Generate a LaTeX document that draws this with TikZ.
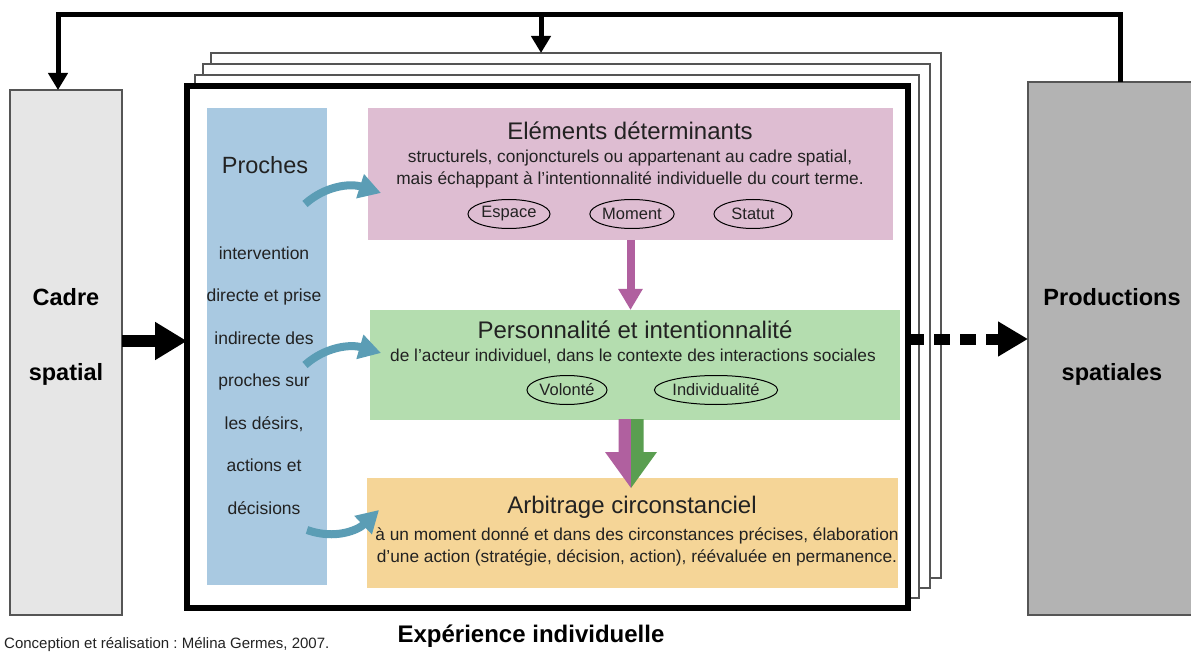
\documentclass[tikz,border=0pt]{standalone}
\usepackage{fontspec}
\setmainfont{Liberation Sans}
\usetikzlibrary{arrows.meta, positioning, shapes.geometric, calc}
\definecolor{cCadre}{HTML}{E6E6E6}
\definecolor{cProd}{HTML}{B3B3B3}
\definecolor{cEdge}{HTML}{555555}
\definecolor{cProche}{HTML}{A9C9E1}
\definecolor{cElem}{HTML}{DEBDD2}
\definecolor{cPerso}{HTML}{B4DDAF}
\definecolor{cArbit}{HTML}{F5D597}
\definecolor{cBlueAr}{HTML}{5B9DB5}
\definecolor{cPinkAr}{HTML}{B0609F}
\definecolor{cGreenAr}{HTML}{5A9E50}
\definecolor{cTxt}{HTML}{222222}
\frenchspacing

\begin{document}
\begin{tikzpicture}[x=1pt, y=-1pt,
    blk/.style={anchor=north west, inner sep=0pt, outer sep=0pt},
    side/.style={blk, draw=cEdge, line width=1.5pt},
    backframe/.style={blk, draw=cEdge, line width=2.5pt, fill=white},
    pane/.style={blk},
    ttl/.style={font=\fontsize{24}{28}\selectfont, text=cTxt, inner sep=0pt},
    txt/.style={font=\fontsize{17.3}{22}\selectfont, text=cTxt, align=center, inner sep=0pt},
    big/.style={font=\fontsize{23.5}{75}\selectfont\bfseries, text=black, align=center, inner sep=0pt},
    oval/.style={ellipse, draw=black, line width=1pt, inner sep=0pt, minimum height=29,
                 font=\fontsize{16.5}{18}\selectfont, text=cTxt},
    fb/.style={line width=5pt, -{Triangle[length=17pt, width=19pt]}},
    inar/.style={line width=12pt, -{Triangle[length=32pt, width=36pt]}},
    dar/.style={line width=11pt, dash pattern=on 16pt off 10pt, -{Triangle[length=30pt, width=33pt]}},
    pkar/.style={cPinkAr, line width=8pt, -{Triangle[length=21pt, width=23pt]}},
    blar/.style={cBlueAr, line width=8pt, -{Triangle[length=22pt, width=24pt]}},
]
\useasboundingbox (0,0) rectangle (1191,652);

% === side boxes ===
\node[side, fill=cCadre, minimum width=112, minimum height=525] (cadre) at (10,90) {};
\node[big] at (66,337) {Cadre\\spatial};
\node[side, fill=cProd, minimum width=184, minimum height=533] (prod) at (1028,82) {};
\node[big] at (1112,337) {Productions\\spatiales};

% === stacked frames ===
\foreach \k in {3,2,1}{
  \pgfmathsetmacro{\fx}{187+8*\k}
  \pgfmathsetmacro{\fy}{86-11*\k}
  \pgfmathsetmacro{\fw}{721+3*\k}
  \pgfmathsetmacro{\fh}{522+\k}
  \node[backframe, minimum width=\fw, minimum height=\fh] (back\k) at (\fx,\fy) {};
}
\node[blk, draw=black, line width=6pt, fill=white, minimum width=721, minimum height=522] (frame) at (187,86) {};

% === feedback loop ===
\coordinate (top) at (541,15);
\draw[fb] (prod.north) |- (top) -| ([xshift=-8pt]cadre.north);
\draw[fb] (top) -- (top |- back3.north);

% === in / out arrows ===
\draw[inar] ([yshift=11.5pt]cadre.east) -- ([yshift=11.5pt]cadre.east -| frame.west);
\draw[dar] ([yshift=8pt]frame.east) -- ([yshift=8pt]frame.east -| prod.west);

% === Proches column ===
\node[pane, fill=cProche, minimum width=120, minimum height=477] (proches) at (207,108) {};
\node[ttl, font=\fontsize{23.5}{26}\selectfont] (prochesT) at (265,165) {Proches};
\node[txt, font=\fontsize{17.5}{42.5}\selectfont] (prochesB) at (264,380.5)
  {intervention\\directe et prise\\indirecte des\\proches sur\\les désirs,\\actions et\\décisions};

% === Eléments déterminants ===
\node[pane, fill=cElem, minimum width=525, minimum height=132] (elem) at (368,108) {};
\node[ttl] (elemT) at (630,131) {Eléments déterminants};
\node[txt] (elemB) at (630,169) {structurels, conjoncturels ou appartenant au cadre spatial,\\mais échappant à l'intentionnalité individuelle du court terme.};
\node[oval, minimum width=82] (espace) at (509,214) {Espace};
\node[oval, minimum width=82] (moment) at (632,214) {Moment};
\node[oval, minimum width=78] (statut) at (753,214) {Statut};

% === Personnalité et intentionnalité ===
\node[pane, fill=cPerso, minimum width=530, minimum height=110] (perso) at (370,310) {};
\node[ttl] (persoT) at (635,330) {Personnalité et intentionnalité};
\node[txt] (persoB) at (633,356) {de l'acteur individuel, dans le contexte des interactions sociales};
\node[oval, minimum width=80] (volonte) at (567,390) {Volonté};
\node[oval, minimum width=114] (indiv) at (716,390) {Individualité};

% === Arbitrage circonstanciel ===
\node[pane, fill=cArbit, minimum width=531, minimum height=110] (arbit) at (367,478) {};
\node[ttl] (arbitT) at (632,507) {Arbitrage circonstanciel};
\node[txt] (arbitB) at (637,547) {à un moment donné et dans des circonstances précises, élaboration\\d'une action (stratégie, décision, action), réévaluée en permanence.};

% === vertical arrows ===
\draw[pkar] (elem.south) -- (elem.south |- perso.north);
\coordinate (sp) at (631,419);
\fill[cPinkAr] (sp) ++(-12.5,0) -- ++(12.5,0) -- ++(0,69) -- ++(-26,-36) -- ++(13.5,0) -- cycle;
\fill[cGreenAr] (sp) ++(12.5,0) -- ++(-12.5,0) -- ++(0,69) -- ++(26,-36) -- ++(-13.5,0) -- cycle;

% === blue arrows from Proches ===
\coordinate (p1) at (305,204);
\coordinate (e1) at (381,193);
\coordinate (p2) at (305,365);
\coordinate (e2) at (381,353);
\coordinate (p3) at (307,530);
\coordinate (e3) at (379,510);
\draw[blar] (p1) .. controls (325,186) and (350,183) .. (e1);
\draw[blar] (p2) .. controls (325,347) and (350,344) .. (e2);
\draw[blar] (p3) .. controls (335,540) and (358,530) .. (e3);

% === captions ===
\node[font=\fontsize{15}{17}\selectfont, text=cTxt, anchor=west, inner sep=0pt] (credit) at (4,645) {Conception et réalisation : Mélina Germes, 2007.};
\node[font=\fontsize{24}{27}\selectfont\bfseries, inner sep=0pt] (expT) at (531,636) {Expérience individuelle};
\end{tikzpicture}
\end{document}
